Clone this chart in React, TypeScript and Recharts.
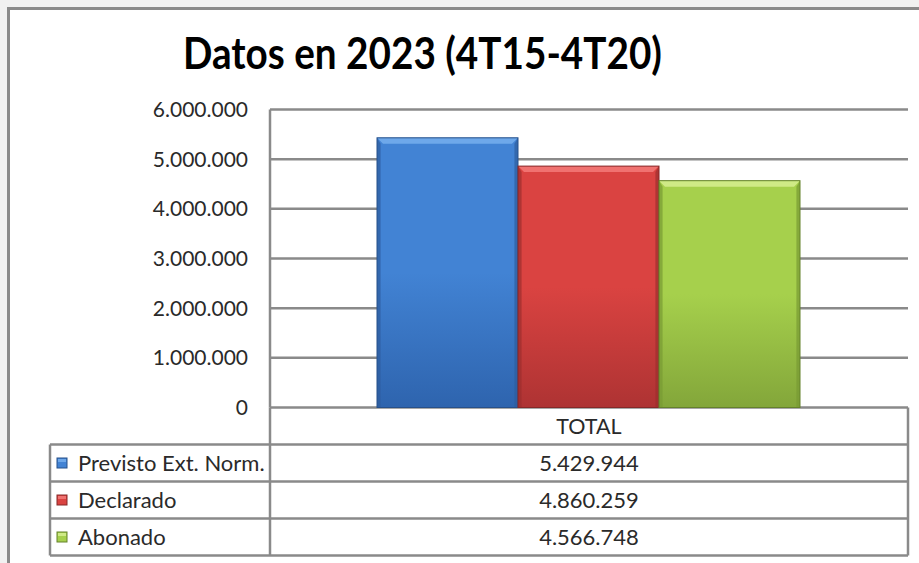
import React from 'react';
import { BarChart, Bar, XAxis, YAxis, CartesianGrid } from 'recharts';

const categories = ['TOTAL'];
const seriesNames = ['Previsto Ext. Norm.', 'Declarado', 'Abonado'];
const previsto = [5429944];
const declarado = [4860259];
const abonado = [4566748];
const yTicks = [0, 1000000, 2000000, 3000000, 4000000, 5000000, 6000000];
const title = 'Datos en 2023 (4T15-4T20)';

const seriesValues = [previsto, declarado, abonado];
const seriesKeys = ['previsto', 'declarado', 'abonado'];

const data = categories.map((c, i) => ({
  name: c,
  previsto: previsto[i],
  declarado: declarado[i],
  abonado: abonado[i],
}));

const palette = [
  { light: '#6ea8ea', top: '#4283d4', bottom: '#2e64ae', side: '#2d5c9e', edge: '#27508a' },
  { light: '#f07270', top: '#da4341', bottom: '#ae3333', side: '#9c2e2e', edge: '#862828' },
  { light: '#cfea86', top: '#a6d04c', bottom: '#83a63a', side: '#789a33', edge: '#64822a' },
];

const fmt = (n: number) => String(n).replace(/\B(?=(\d{3})+(?!\d))/g, '.');

const FONT = 'Lato, "Open Sans", sans-serif';
const TXT = '#2a2a2a';
const LINE = '#8a8a8a';

const makeShape = (idx: number) => (props: any) => {
  const { x, y, width, height } = props;
  const c = palette[idx];
  const id = `g${idx}`;
  const b = Math.min(6, width / 4, height / 4);
  return (
    <g>
      <defs>
        <linearGradient id={id} x1="0" y1="0" x2="0" y2="1">
          <stop offset="0" stopColor={c.top} />
          <stop offset="0.5" stopColor={c.top} />
          <stop offset="1" stopColor={c.bottom} />
        </linearGradient>
      </defs>
      <rect x={x} y={y} width={width} height={height} fill={`url(#${id})`} />
      <polygon points={`${x},${y} ${x + width},${y} ${x + width - b},${y + b} ${x + b},${y + b}`} fill={c.light} />
      <polygon points={`${x},${y} ${x + b * 0.6},${y + b} ${x + b * 0.6},${y + height} ${x},${y + height}`} fill={c.side} opacity={0.7} />
      <polygon points={`${x + width},${y} ${x + width - b * 0.6},${y + b} ${x + width - b * 0.6},${y + height} ${x + width},${y + height}`} fill={c.side} opacity={0.7} />
      <rect x={x} y={y} width={width} height={height} fill="none" stroke={c.edge} strokeWidth={1} />
    </g>
  );
};

const YTick = (props: any) => {
  const { x, y, payload } = props;
  return (
    <text x={x} y={y} dy="0.36em" textAnchor="end" fill={TXT} fontSize={21} fontFamily={FONT}>
      {fmt(payload.value)}
    </text>
  );
};

const XTick = (props: any) => {
  const { x, y, payload } = props;
  return (
    <text x={x} y={y + 26} textAnchor="middle" fill={TXT} fontSize={21.5} fontFamily={FONT}>
      {payload.value}
    </text>
  );
};

const PLOT_L = 270;
const PLOT_R = 908;
const ZERO_Y = 407.5;
const ROWS = [444.5, 481.5, 518.5, 555.5];

const Overlay = () => {
  const midX = (PLOT_L + PLOT_R) / 2;
  return (
    <svg width={919} height={563} style={{ position: 'absolute', left: 0, top: 0, pointerEvents: 'none' }}>
      <text x={422.5} y={69} textAnchor="middle" fontSize={43} fontWeight={700} fontFamily={FONT} fill="#000" textLength={479} lengthAdjust="spacingAndGlyphs">
        {title}
      </text>
      <g stroke={LINE} strokeWidth={2.5} fill="none">
        <line x1={PLOT_L} y1={ZERO_Y} x2={PLOT_L} y2={ROWS[3]} />
        <line x1={PLOT_R} y1={ZERO_Y} x2={PLOT_R} y2={ROWS[3]} />
        <line x1={50} y1={ROWS[0]} x2={50} y2={ROWS[3]} />
        {ROWS.map((r, i) => (
          <line key={i} x1={50} y1={r} x2={PLOT_R} y2={r} />
        ))}
      </g>
      {seriesNames.map((s, i) => {
        const cy = (ROWS[i] + ROWS[i + 1]) / 2;
        const c = palette[i];
        return (
          <g key={s}>
            <rect x={57} y={cy - 5} width={10} height={10} fill={c.top} stroke={c.edge} strokeWidth={1} />
            <rect x={58} y={cy - 4} width={8} height={3} fill={c.light} />
            <text x={78} y={cy + 7.5} fontSize={22} fontFamily={FONT} fill={TXT}>{s}</text>
            <text x={midX} y={cy + 7.5} textAnchor="middle" fontSize={22} fontFamily={FONT} fill={TXT}>
              {fmt(seriesValues[i][0])}
            </text>
          </g>
        );
      })}
    </svg>
  );
};

export default function App() {
  return (
    <div style={{ position: 'absolute', left: 0, top: 0, width: 919, height: 563, background: '#f1f1f1', overflow: 'hidden' }}>
      <div style={{ position: 'absolute', left: 7, top: 7, width: 930, height: 570, background: '#ffffff', borderLeft: `3px solid ${LINE}`, borderTop: `3px solid ${LINE}`, boxSizing: 'border-box' }} />
      <div style={{ position: 'absolute', left: 0, top: 0 }}>
        <BarChart
          width={919}
          height={563}
          data={data}
          margin={{ top: 109.5, right: 919 - PLOT_R, bottom: 563 - ZERO_Y - 37, left: 0 }}
          barGap={0}
          barCategoryGap={107}
        >
          <CartesianGrid vertical={false} stroke={LINE} strokeWidth={2.5} />
          <XAxis dataKey="name" axisLine={false} tickLine={false} tickSize={0} tickMargin={0} height={37} tick={<XTick />} />
          <YAxis
            width={PLOT_L}
            domain={[0, 6000000]}
            ticks={yTicks}
            interval={0}
            tickLine={false}
            tickSize={0}
            tickMargin={22}
            axisLine={{ stroke: LINE, strokeWidth: 2.5 }}
            tick={<YTick />}
          />
          {seriesKeys.map((k, i) => (
            <Bar key={k} dataKey={k} name={seriesNames[i]} isAnimationActive={false} shape={makeShape(i)} />
          ))}
        </BarChart>
      </div>
      <Overlay />
    </div>
  );
}
